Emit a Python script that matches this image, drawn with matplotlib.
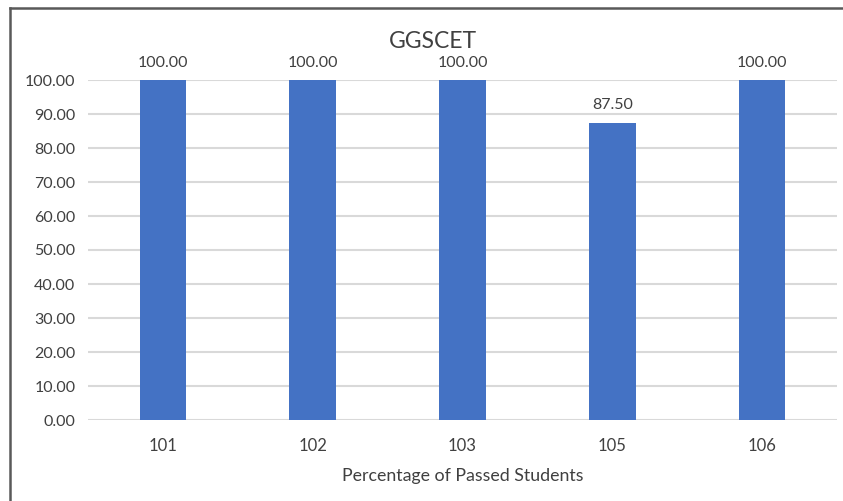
import matplotlib
matplotlib.use("Agg")
import matplotlib.pyplot as plt
from matplotlib.lines import Line2D

categories = ["101", "102", "103", "105", "106"]
values = [100.00, 100.00, 100.00, 87.50, 100.00]
yticks = [0, 10, 20, 30, 40, 50, 60, 70, 80, 90, 100]
title = "GGSCET"
xlabel = "Percentage of Passed Students"

plt.rcParams['font.family'] = ['Lato', 'DejaVu Sans']
txt = '#404040'

fig = plt.figure(figsize=(8.43, 5.01), dpi=100)
W, H = 843, 501
ax = fig.add_axes([88 / W, 1 - 420 / H, (837 - 88) / W, (420 - 80) / H])

x = range(len(categories))
ax.bar(x, values, width=0.31, color='#4472C4', zorder=3)
for xi, v in zip(x, values):
    ax.text(xi, v + 3, f"{v:.2f}", ha='center', va='bottom', fontsize=11.5, color=txt)

ax.set_xlim(-0.5, len(categories) - 0.5)
ax.set_ylim(0, 100)
ax.set_yticks(yticks)
ax.set_yticklabels([f"{t:.2f}" for t in yticks], fontsize=11.5, color=txt)
ax.set_xticks(list(x))
ax.set_xticklabels(categories, fontsize=12, color=txt)
ax.tick_params(length=0, pad=9)
ax.tick_params(axis='x', pad=13)
ax.yaxis.grid(True, color='#d9d9d9', linewidth=1.5, zorder=0)
ax.set_axisbelow(True)
for s in ax.spines.values():
    s.set_visible(False)
ax.set_xlabel(xlabel, fontsize=12.8, color=txt, labelpad=10)

fig.text(433 / W, 1 - 42 / H, title, ha='center', va='center', fontsize=16.5, color=txt)

# outer border (left and top edges)
fig.add_artist(Line2D([10 / W, 10 / W], [0, 1 - 8 / H], transform=fig.transFigure, color='#595959', linewidth=1.8))
fig.add_artist(Line2D([10 / W, 1], [1 - 8 / H, 1 - 8 / H], transform=fig.transFigure, color='#595959', linewidth=1.8))

fig.savefig("out.png", dpi=100)
